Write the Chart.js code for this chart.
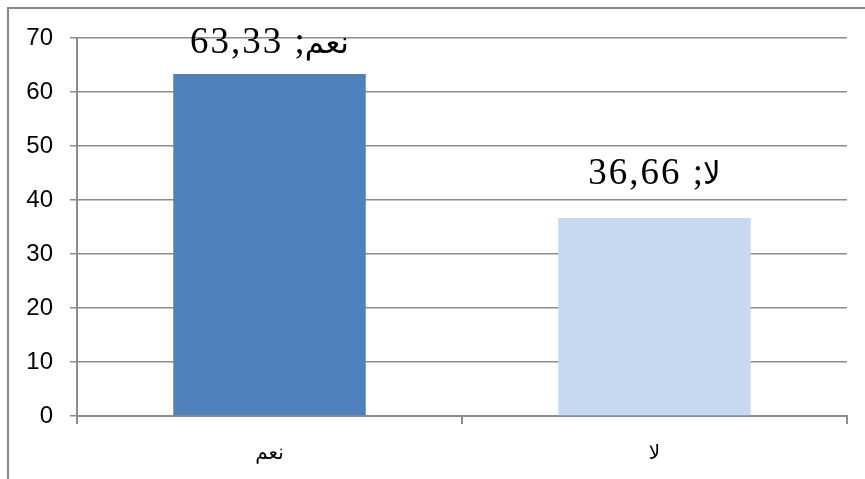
<!DOCTYPE html>
<html>
<head>
<meta charset="utf-8">
<script src="https://cdn.jsdelivr.net/npm/chart.js@4/dist/chart.umd.min.js"></script>
<style>
  html, body { margin: 0; padding: 0; background: #fff; }
  #wrap { width: 865px; height: 479px; }
</style>
</head>
<body>
<div id="wrap"><canvas id="c" width="865" height="479"></canvas></div>
<script>
// Answers and their shares (%)
const categories = ['نعم', 'لا'];
const values = [63.33, 36.66];
const barColors = ['#4f81bd', '#c6d9f1'];
const yTicks = [0, 10, 20, 30, 40, 50, 60, 70];

const gridGray = '#8c8c8c';

// Outer frame of the chart object (top and left edges)
const framePlugin = {
  id: 'frame',
  beforeDraw(chart) {
    const ctx = chart.ctx;
    ctx.save();
    ctx.fillStyle = '#ffffff';
    ctx.fillRect(0, 0, chart.width, chart.height);
    ctx.strokeStyle = '#868686';
    ctx.lineWidth = 2;
    ctx.beginPath();
    ctx.moveTo(8, chart.height);
    ctx.lineTo(8, 8);
    ctx.lineTo(chart.width, 8);
    ctx.stroke();
    ctx.restore();
  }
};

// Value labels above each bar: "category; value" (Arabic word on the right)
const valueLabels = {
  id: 'valueLabels',
  afterDatasetsDraw(chart) {
    const ctx = chart.ctx;
    const meta = chart.getDatasetMeta(0);
    const area = chart.chartArea;
    const numFont = '37px "Liberation Serif", "Times New Roman", serif';
    const arFont = '31px "DejaVu Sans", sans-serif';
    ctx.save();
    ctx.fillStyle = '#000';
    ctx.textBaseline = 'alphabetic';
    meta.data.forEach((bar, i) => {
      const num = values[i].toFixed(2).replace('.', ',');
      const word = categories[i];
      if ('letterSpacing' in ctx) ctx.letterSpacing = '2px';
      ctx.font = numFont;
      const wNum = ctx.measureText(num + ' ').width;
      if ('letterSpacing' in ctx) ctx.letterSpacing = '0px';
      const wSep = ctx.measureText(';').width;
      ctx.font = arFont;
      const wWord = ctx.measureText(word).width;
      const total = wNum + wSep + wWord;
      let x = bar.x - total / 2;
      const y = Math.max(bar.y - 34, area.top + 15);
      ctx.direction = 'ltr';
      ctx.textAlign = 'left';
      ctx.font = numFont;
      if ('letterSpacing' in ctx) ctx.letterSpacing = '2px';
      ctx.fillText(num, x, y);
      x += wNum;
      if ('letterSpacing' in ctx) ctx.letterSpacing = '0px';
      ctx.fillText(';', x, y);
      x += wSep;
      ctx.font = arFont;
      ctx.direction = 'rtl';
      ctx.textAlign = 'right';
      ctx.fillText(word, x + wWord, y);
    });
    ctx.restore();
  }
};

new Chart(document.getElementById('c'), {
  type: 'bar',
  data: {
    labels: categories,
    datasets: [{
      data: values,
      backgroundColor: barColors,
      borderWidth: 0,
      categoryPercentage: 1,
      barPercentage: 0.5
    }]
  },
  options: {
    responsive: false,
    animation: false,
    layout: { padding: { top: 38, right: 18, left: 0, bottom: 0 } },
    plugins: { legend: { display: false }, tooltip: { enabled: false } },
    scales: {
      x: {
        grid: {
          offset: true,
          drawOnChartArea: false,
          drawTicks: true,
          tickLength: 8,
          color: gridGray,
          lineWidth: 2
        },
        border: { color: gridGray, width: 2 },
        ticks: {
          color: '#000',
          padding: 18,
          font: { family: '"DejaVu Sans", sans-serif', size: 20 }
        },
        afterFit(scale) { scale.height = 63; }
      },
      y: {
        min: 0,
        max: 70,
        afterBuildTicks(scale) { scale.ticks = yTicks.map(v => ({ value: v })); },
        grid: {
          color: gridGray,
          lineWidth: 1.5,
          tickLength: 7,
          drawTicks: true
        },
        border: { color: gridGray, width: 2 },
        ticks: {
          color: '#000',
          padding: 17,
          font: { family: '"Liberation Sans", Arial, sans-serif', size: 24 }
        },
        afterFit(scale) { scale.width = 77; }
      }
    }
  },
  plugins: [framePlugin, valueLabels]
});
</script>
</body>
</html>
